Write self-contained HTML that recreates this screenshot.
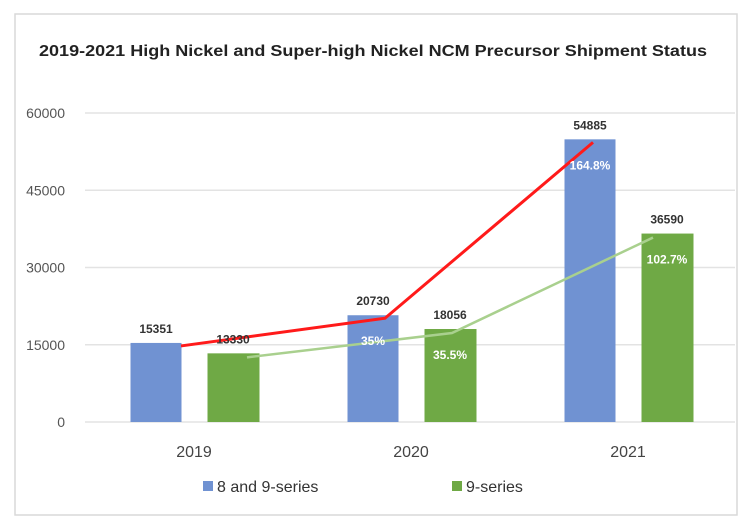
<!DOCTYPE html>
<html><head><meta charset="utf-8"><style>
html,body{margin:0;padding:0;background:#fff;}
svg{display:block;font-family:"Liberation Sans",Arial,sans-serif;}
</style></head><body>
<svg id="chart" width="750" height="526" viewBox="0 0 750 526">
<rect x="15" y="14" width="722" height="501" fill="#fff" stroke="#d9d9d9" stroke-width="1.5"/>
<text x="373" y="56" text-anchor="middle" font-size="16" font-weight="bold" fill="#222" textLength="668" lengthAdjust="spacingAndGlyphs">2019-2021 High Nickel and Super-high Nickel NCM Precursor Shipment Status</text>
<g id="grid"></g><g id="bars"></g><g id="lines"></g><g id="labels"></g>
<g>
<rect x="203" y="481" width="10" height="10" fill="#7092d2"/>
<text x="217" y="492" font-size="16" fill="#333">8 and 9-series</text>
<rect x="452" y="481" width="10" height="10" fill="#6fa945"/>
<text x="466" y="492" font-size="16" fill="#333">9-series</text>
</g>
</svg>
<script>
const categories=["2019","2020","2021"];
const series89=[15351,20730,54885];
const series9=[13330,18056,36590];
const growth89=["","35%","164.8%"];
const growth9=["","35.5%","102.7%"];
const yTicks=[0,15000,30000,45000,60000];
const NS="http://www.w3.org/2000/svg";
const y0=422,yTop=113,yMax=60000;
function y(v){return y0-(v/yMax)*(y0-yTop);}
function cx(i){return 194+i*217;}
const bw=51;
function mk(tag,attrs,parent){const e=document.createElementNS(NS,tag);for(const k in attrs)e.setAttribute(k,attrs[k]);document.getElementById(parent).appendChild(e);return e;}
yTicks.forEach(t=>{
 const l=mk("line",{x1:85,x2:735,y1:y(t),y2:y(t),stroke:"#e3e3e3","stroke-width":1.5},"grid");
 
 
 const tx=mk("text",{x:65,y:y(t)+5,"text-anchor":"end","font-size":14,fill:"#555"},"grid");
 tx.textContent=t;
 
 
});
const p1=[],p2=[];
categories.forEach((c,i)=>{
 const bx=cx(i)-38-bw/2, gx=cx(i)+39-bw/2;
 const b=mk("rect",{x:bx,y:y(series89[i]),width:bw,height:y0-y(series89[i]),fill:"#7092d2"},"bars");
 
 
 const g=mk("rect",{x:gx,y:y(series9[i]),width:bw+1,height:y0-y(series9[i]),fill:"#6fa945"},"bars");
 
 
 const v1=mk("text",{x:bx+bw/2,y:y(series89[i])-10,"text-anchor":"middle","font-size":12,"font-weight":"bold",fill:"#333"},"labels");
 v1.textContent=series89[i];
 
 
 const v2=mk("text",{x:gx+bw/2,y:y(series9[i])-10,"text-anchor":"middle","font-size":12,"font-weight":"bold",fill:"#333"},"labels");
 v2.textContent=series9[i];
 
 
 if(growth89[i]){const t=mk("text",{x:bx+bw/2,y:y(series89[i])+30,"text-anchor":"middle","font-size":12,"font-weight":"bold",fill:"#fff"},"labels");t.textContent=growth89[i];
 
 }
 if(growth9[i]){const t=mk("text",{x:gx+bw/2,y:y(series9[i])+30,"text-anchor":"middle","font-size":12,"font-weight":"bold",fill:"#fff"},"labels");t.textContent=growth9[i];
 
 }
 const xl=mk("text",{x:cx(i),y:457,"text-anchor":"middle","font-size":16,fill:"#444"},"labels");
 xl.textContent=c;
 
 
 const off1=[-13,-26,-35][i], off2=[14,2,-14][i];
 p1.push((cx(i)+off1)+","+(y(series89[i])+3));
 p2.push((cx(i)+39+off2)+","+(y(series9[i])+4));
});
const r=mk("polyline",{points:p1.join(" "),fill:"none",stroke:"#ff1a1a","stroke-width":3},"lines");


const gl=mk("polyline",{points:p2.join(" "),fill:"none",stroke:"#a9d08e","stroke-width":2.5},"lines");


</script>
</body></html>
